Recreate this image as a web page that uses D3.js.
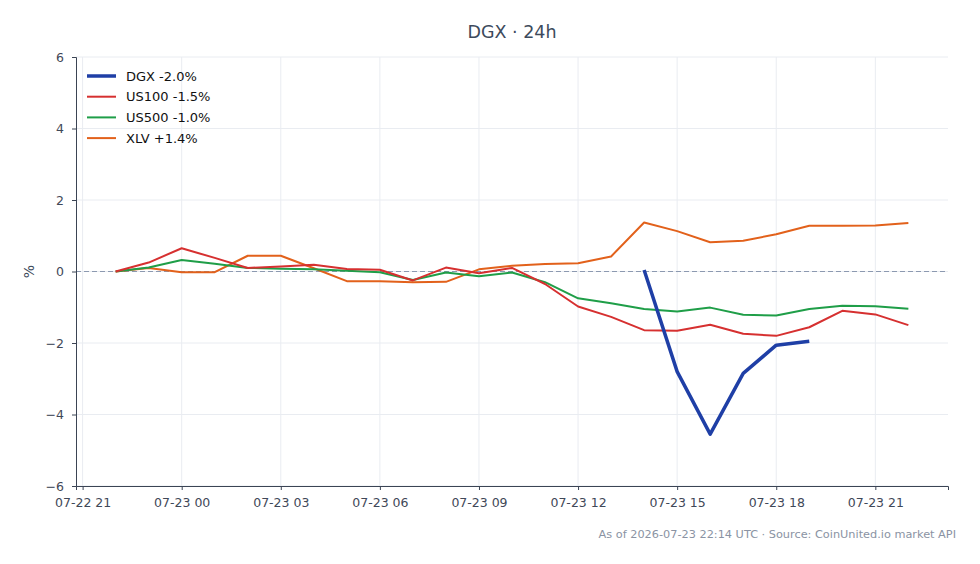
<head>
  <meta charset="UTF-8">
  <script src="https://d3js.org/d3.v7.min.js"></script>
</head>
<body style="margin:0;background:#fff">
  <svg id="chart"></svg>
</body>
<style>
  text { font-family: 'DejaVu Sans', sans-serif; }
</style>
<script>
  // hourly points from 07-22 22:00 UTC
  const startHour = '2026-07-22T22:00:00Z';
  const dgxStart = 16;
  const dgx = [0.04, -2.8, -4.55, -2.85, -2.06, -1.95];
  const us100 = [0, 0.25, 0.65, 0.38, 0.1, 0.14, 0.19, 0.07, 0.05, -0.25, 0.11, -0.05, 0.1, -0.35, -0.98, -1.27, -1.64, -1.66, -1.49, -1.74, -1.8, -1.56, -1.1, -1.2, -1.5];
  const us500 = [0, 0.11, 0.32, 0.22, 0.1, 0.08, 0.06, 0.02, -0.02, -0.24, -0.03, -0.13, -0.03, -0.3, -0.75, -0.89, -1.05, -1.12, -1.01, -1.21, -1.23, -1.05, -0.96, -0.97, -1.04];
  const xlv = [0, 0.1, -0.02, -0.02, 0.44, 0.44, 0.09, -0.27, -0.27, -0.3, -0.29, 0.06, 0.16, 0.21, 0.23, 0.42, 1.37, 1.13, 0.82, 0.86, 1.04, 1.28, 1.28, 1.29, 1.36];
  const seriesNames = ['DGX -2.0%', 'US100 -1.5%', 'US500 -1.0%', 'XLV +1.4%'];
  const yTicks = [-6, -4, -2, 0, 2, 4, 6];

  const W = 980, H = 564;
  const margin = {top: 57, right: 32, bottom: 78, left: 76};
  const svg = d3.select('#chart').attr('width', W).attr('height', H);

  const t0 = new Date(startHour);
  const hr = 3600 * 1000;
  const toTime = i => new Date(t0.getTime() + i * hr);

  const x = d3.scaleUtc()
    .domain([new Date(t0.getTime() - 1.2 * hr), new Date(t0.getTime() + 25.2 * hr)])
    .range([margin.left, W - margin.right]);
  const y = d3.scaleLinear().domain([-6, 6]).range([H - margin.bottom, margin.top]);

  const xTicks = d3.range(0, 9).map(k => new Date(t0.getTime() + (k * 3 - 1) * hr));
  const fmt = d3.utcFormat('%m-%d %H');

  // grid
  const grid = svg.append('g');
  grid.selectAll('line.v').data(xTicks).join('line')
    .attr('x1', d => x(d)).attr('x2', d => x(d))
    .attr('y1', margin.top).attr('y2', H - margin.bottom)
    .attr('stroke', '#e9ecf1').attr('stroke-width', 1);
  grid.selectAll('line.h').data(yTicks).join('line')
    .attr('x1', margin.left).attr('x2', W - margin.right)
    .attr('y1', d => y(d)).attr('y2', d => y(d))
    .attr('stroke', '#e9ecf1').attr('stroke-width', 1);

  svg.append('line')
    .attr('x1', margin.left).attr('x2', W - margin.right)
    .attr('y1', y(0)).attr('y2', y(0))
    .attr('stroke', '#8c99b0').attr('stroke-width', 1).attr('stroke-dasharray', '5,3');

  // axes
  const xAxis = svg.append('g')
    .attr('transform', `translate(0,${H - margin.bottom})`)
    .call(d3.axisBottom(x).tickValues(xTicks).tickFormat(fmt).tickSizeOuter(0).tickSize(4).tickPadding(8));
  const yAxis = svg.append('g')
    .attr('transform', `translate(${margin.left},0)`)
    .call(d3.axisLeft(y).tickValues(yTicks).tickSizeOuter(0).tickSize(4).tickPadding(8));
  [xAxis, yAxis].forEach(a => {
    a.select('.domain').attr('stroke', '#3b4454');
    a.selectAll('.tick line').attr('stroke', '#3b4454');
    a.selectAll('.tick text').attr('fill', '#3f4858').attr('font-size', 12.5).style('font-family', 'DejaVu Sans, sans-serif');
  });

  // lines
  const line = d3.line().x(d => x(d.t)).y(d => y(d.v));
  const mk = (arr, off) => arr.map((v, i) => ({t: toTime(i + off), v}));
  const series = [
    {data: mk(xlv, 0), color: '#e2611b', w: 2},
    {data: mk(us500, 0), color: '#1f9e48', w: 2},
    {data: mk(us100, 0), color: '#d63030', w: 2},
    {data: mk(dgx, dgxStart), color: '#1f3fa6', w: 3.5}
  ];
  svg.append('g').selectAll('path').data(series).join('path')
    .attr('d', d => line(d.data))
    .attr('fill', 'none')
    .attr('stroke', d => d.color)
    .attr('stroke-width', d => d.w)
    .attr('stroke-linejoin', 'round');

  // legend
  const legColors = ['#1f3fa6', '#d63030', '#1f9e48', '#e2611b'];
  const leg = svg.append('g').attr('transform', 'translate(87,76)');
  seriesNames.forEach((n, i) => {
    leg.append('line').attr('x1', 0).attr('x2', 29).attr('y1', i * 20.7).attr('y2', i * 20.7)
      .attr('stroke', legColors[i]).attr('stroke-width', i === 0 ? 3.5 : 2);
    leg.append('text').attr('x', 39).attr('y', i * 20.7).attr('dy', '0.35em')
      .attr('font-size', 13).attr('fill', '#111').text(n);
  });

  // titles
  svg.append('text').attr('x', 512).attr('y', 38).attr('text-anchor', 'middle')
    .attr('font-size', 17.5).attr('fill', '#3d4a5c').text('DGX · 24h');
  svg.append('text').attr('transform', `translate(34,${y(0)}) rotate(-90)`)
    .attr('text-anchor', 'middle').attr('font-size', 14).attr('fill', '#3d4a5c').text('%');
  svg.append('text').attr('x', 956).attr('y', 538).attr('text-anchor', 'end')
    .attr('font-size', 11.3).attr('fill', '#8a93a3')
    .text('As of 2026-07-23 22:14 UTC · Source: CoinUnited.io market API');
</script>
